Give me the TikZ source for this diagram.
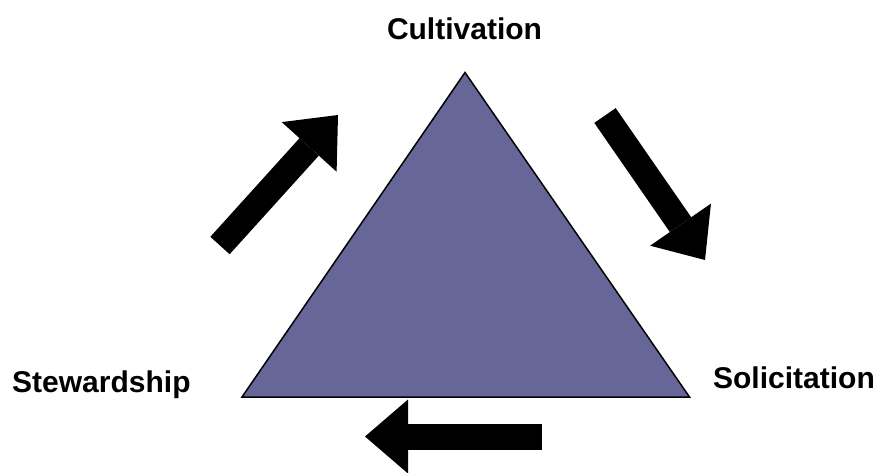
\documentclass[tikz,border=0pt]{standalone}
\usepackage{fontspec}
\setmainfont{Liberation Sans}
\usetikzlibrary{arrows.meta}

\definecolor{triblue}{RGB}{102,102,153}

\begin{document}
\begin{tikzpicture}[
    x=1pt, y=-1pt,
    lbl/.style={
        inner sep=0pt,
        font=\fontsize{30}{36}\selectfont\bfseries
    },
    tri/.style={draw=black, line width=1.5pt, line join=miter, fill=triblue},
    bigarrow/.style={
        line width=26pt,
        line cap=butt,
        -{Triangle[length=43pt, width=74pt, line width=0pt]}
    }
]
\useasboundingbox (0,0) rectangle (880,472);

% ============================================================
% TRIANGLE
% ============================================================
\coordinate (apex) at (465,72.5);
\coordinate (baseL) at (242,397);
\coordinate (baseR) at (689.5,397);
\draw[tri] (apex) -- (baseL) -- (baseR) -- cycle;

% ============================================================
% LABELS
% ============================================================
\node[lbl, anchor=base] (cult) at (464.5,39) {Cultivation};
\node[lbl, anchor=base west] (stew) at (12,392) {Stewardship};
\node[lbl, anchor=base east] (soli) at (875,388) {Solicitation};

% ============================================================
% CYCLE ARROWS
% ============================================================
\coordinate (upTail) at (220,245.5);
\coordinate (upTip) at (338,115);
\coordinate (downTail) at (605,115.5);
\coordinate (downTip) at (705,260);
\coordinate (backTail) at (542,436.5);
\coordinate (backTip) at (365,436.5);

\draw[bigarrow] (upTail) -- (upTip);
\draw[bigarrow] (downTail) -- (downTip);
\draw[bigarrow] (backTail) -- (backTip);

\end{tikzpicture}
\end{document}
